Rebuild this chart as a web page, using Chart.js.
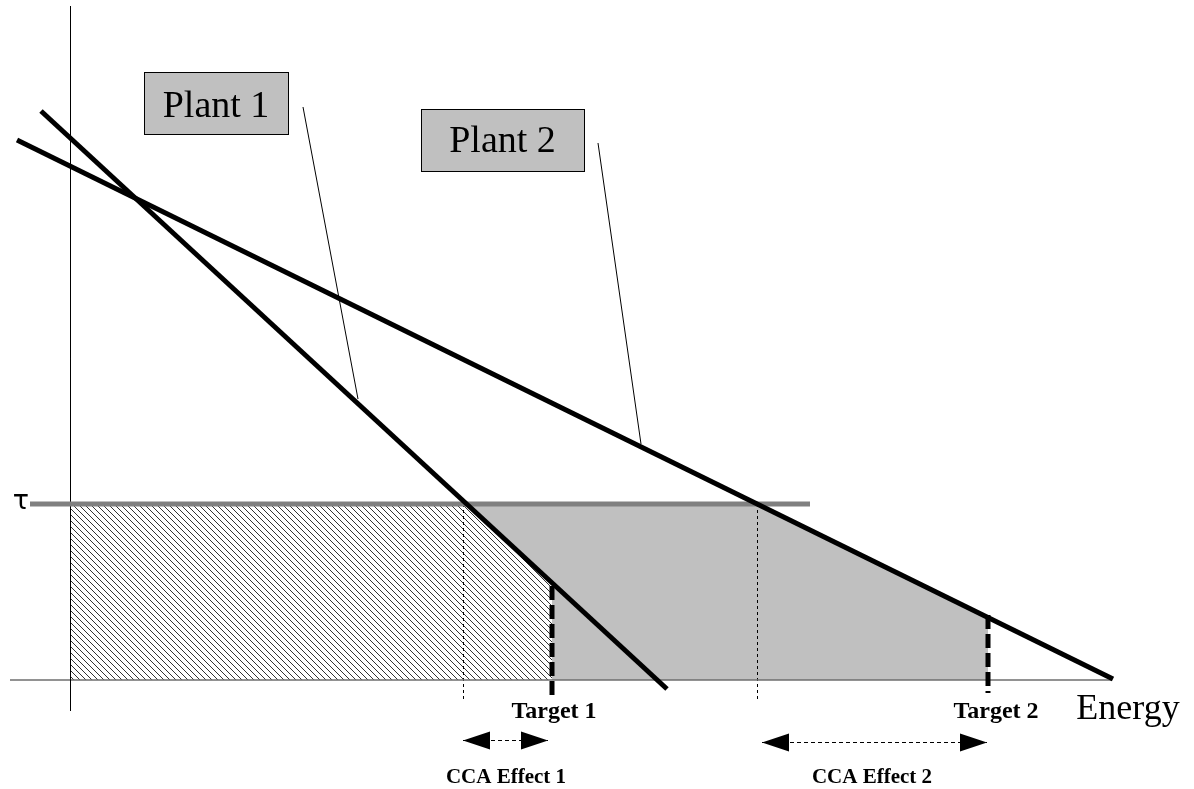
<!DOCTYPE html>
<html>
<head>
<meta charset="utf-8">
<script src="https://cdn.jsdelivr.net/npm/chart.js@4"></script>
<style>
html,body{margin:0;padding:0;background:#fff;}
canvas{display:block;}
</style>
</head>
<body>
<canvas id="c" width="1194" height="789"></canvas>
<script>
// ---- diagram data (energy units on x, value units on y; origin at the axes' corner) ----
const plant1Line = [{x:-29,y:569},{x:597,y:-9}];
const plant2Line = [{x:-53,y:540},{x:1043,y:1}];
const tauLine    = [{x:-40,y:176},{x:740,y:176}];
const energyAxis = [{x:-60,y:0},{x:1042,y:0}];
const valueAxis  = [{x:0.5,y:674},{x:0.5,y:-31}];
const hatchedArea = [{x:0,y:176},{x:395,y:176},{x:482,y:97},{x:482,y:0}];
const greyArea    = [{x:395,y:176},{x:687,y:176},{x:918,y:62},{x:918,y:0}];
const target1 = [{x:482,y:94},{x:482,y:-15}];
const target2 = [{x:918,y:65},{x:918,y:-13}];
const guide1  = [{x:393.5,y:176},{x:393.5,y:-20}];
const guide2  = [{x:687.5,y:176},{x:687.5,y:-20}];
const leader1 = [{x:233,y:573},{x:288,y:281}];
const leader2 = [{x:528,y:537},{x:571,y:236}];
const effect1 = [{x:393,y:-60.5},{x:478,y:-60.5}];
const effect2 = [{x:692,y:-62.5},{x:917,y:-62.5}];
const plantBoxes = [
  {label:'Plant 1', x0:74,  x1:218, y0:546, y1:608, ty:563},
  {label:'Plant 2', x0:351, x1:514, y0:509, y1:571, ty:528}
];
const targetLabels = [{text:'Target 1', x:484, y:-38},{text:'Target 2', x:926, y:-38}];
const effectLabels = [{text:'CCA Effect 1', x:436, y:-103},{text:'CCA Effect 2', x:802, y:-103}];
const axisLabels = [{text:'Energy', x:1058, y:-39}];
const tauLabel = {text:'\u03c4', x:-49, y:178};

// ---- hatch pattern ----
function makeHatch(){
  const s = 6;
  const pc = document.createElement('canvas');
  pc.width = s; pc.height = s;
  const g = pc.getContext('2d');
  g.fillStyle = '#ffffff';
  g.fillRect(0,0,s,s);
  g.strokeStyle = '#333';
  g.lineWidth = 1;
  g.beginPath();
  g.moveTo(-1,-1); g.lineTo(s+1,s+1);
  g.moveTo(-1,s-1); g.lineTo(1,s+1);
  g.moveTo(s-1,-1); g.lineTo(s+1,1);
  g.stroke();
  return g.createPattern(pc,'repeat');
}
const hatch = makeHatch();

function seg(data, color, width, dash, order){
  return {data, showLine:true, borderColor:color, borderWidth:width, borderDash:dash||[],
          pointRadius:0, fill:false, order, borderCapStyle:'butt'};
}

const overlay = {
  id:'overlay',
  afterDatasetsDraw(chart){
    const ctx = chart.ctx, xs = chart.scales.x, ys = chart.scales.y;
    const X = v => xs.getPixelForValue(v), Y = v => ys.getPixelForValue(v);
    ctx.save();
    // plant boxes
    plantBoxes.forEach(b=>{
      const l = X(b.x0), r = X(b.x1), t = Y(b.y1), bt = Y(b.y0);
      ctx.fillStyle = '#c0c0c0';
      ctx.fillRect(l,t,r-l,bt-t);
      ctx.strokeStyle = '#000'; ctx.lineWidth = 1;
      ctx.strokeRect(Math.round(l)+0.5,Math.round(t)+0.5,r-l,bt-t);
      ctx.fillStyle = '#000';
      ctx.font = '38px "Liberation Serif", "Times New Roman", serif';
      ctx.textAlign = 'center'; ctx.textBaseline = 'alphabetic';
      ctx.fillText(b.label,(l+r)/2,Y(b.ty));
    });
    // arrowheads
    const head = (tipX, y, dir) => {
      ctx.beginPath();
      ctx.moveTo(tipX, y);
      ctx.lineTo(tipX + dir*27, y-9);
      ctx.lineTo(tipX + dir*27, y+9);
      ctx.closePath();
      ctx.fillStyle = '#000'; ctx.fill();
    };
    [effect1, effect2].forEach(e=>{
      head(X(e[0].x), Y(e[0].y), 1);
      head(X(e[1].x), Y(e[1].y), -1);
    });
    // labels
    ctx.fillStyle = '#000';
    ctx.textAlign = 'center'; ctx.textBaseline = 'alphabetic';
    ctx.font = 'bold 24px "Liberation Serif", "Times New Roman", serif';
    targetLabels.forEach(t=>ctx.fillText(t.text, X(t.x), Y(t.y)));
    ctx.font = 'bold 21px "Liberation Serif", "Times New Roman", serif';
    effectLabels.forEach(t=>ctx.fillText(t.text, X(t.x), Y(t.y)));
    ctx.font = '36px "Liberation Serif", "Times New Roman", serif';
    axisLabels.forEach(t=>ctx.fillText(t.text, X(t.x), Y(t.y)));
    ctx.font = '27px "DejaVu Sans", sans-serif';
    ctx.textBaseline = 'middle';
    ctx.fillText(tauLabel.text, X(tauLabel.x), Y(tauLabel.y));
    ctx.restore();
  }
};

new Chart(document.getElementById('c'), {
  type:'scatter',
  data:{datasets:[
    {data:greyArea, showLine:true, borderWidth:0, borderColor:'rgba(0,0,0,0)', backgroundColor:'#c0c0c0', fill:'origin', pointRadius:0, order:30},
    {data:hatchedArea, showLine:true, borderWidth:0, borderColor:'rgba(0,0,0,0)', backgroundColor:hatch, fill:'origin', pointRadius:0, order:29},
    seg(guide1,'#000',1,[3,3],25),
    seg(guide2,'#000',1,[3,3],25),
    seg(energyAxis,'#6e6e6e',1.5,[],24),
    seg(valueAxis,'#000',1,[],23),
    seg(tauLine,'#808080',5,[],22),
    seg(leader1,'#000',1,[],21),
    seg(leader2,'#000',1,[],21),
    seg(plant1Line,'#000',5,[],20),
    seg(plant2Line,'#000',5,[],20),
    seg(target1,'#000',5,[14,5],19),
    seg(target2,'#000',5,[14,5],19),
    seg(effect1,'#000',1,[4,3],18),
    seg(effect2,'#000',1,[4,3],18)
  ]},
  options:{
    responsive:false,
    animation:false,
    devicePixelRatio:1,
    layout:{padding:0},
    plugins:{legend:{display:false}, tooltip:{enabled:false}},
    scales:{
      x:{type:'linear', min:-70, max:1124, display:false},
      y:{type:'linear', min:-109, max:680, display:false}
    }
  },
  plugins:[overlay]
});
</script>
</body>
</html>
